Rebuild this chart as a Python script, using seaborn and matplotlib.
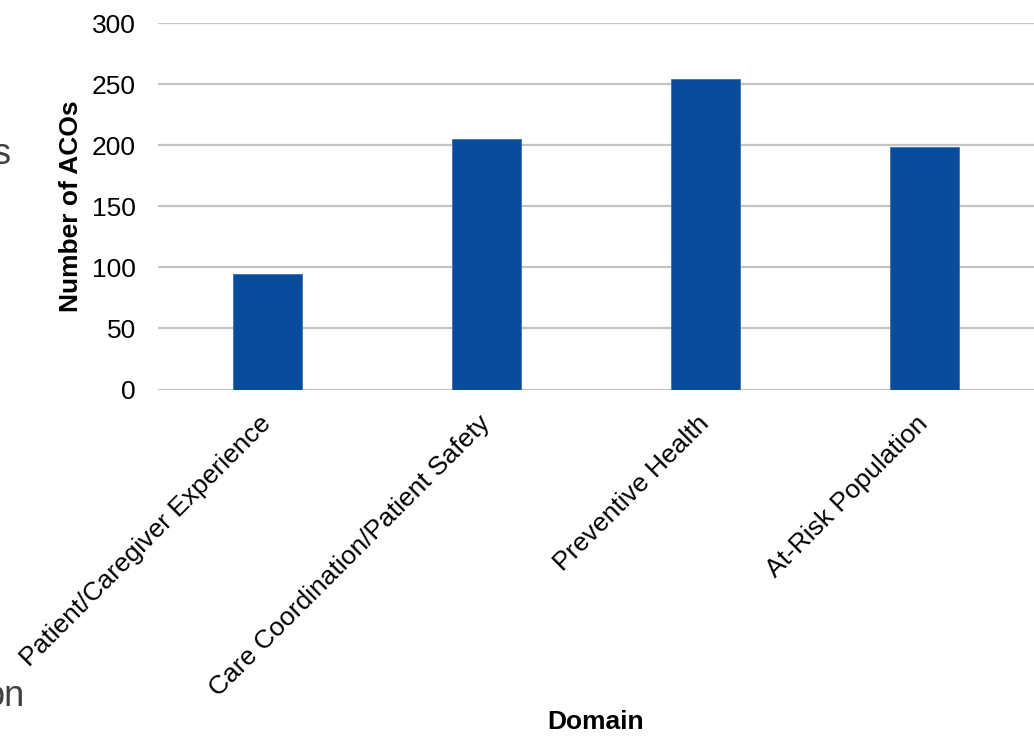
import matplotlib
matplotlib.use("Agg")
import matplotlib.pyplot as plt
import seaborn as sns
import pandas as pd

categories = ["Patient/Caregiver Experience", "Care Coordination/Patient Safety",
              "Preventive Health", "At-Risk Population"]
values = [95, 205, 254, 199]
y_ticks = [0, 50, 100, 150, 200, 250, 300]

sns.set_theme(style="white")
plt.rcParams['font.family'] = ['Liberation Sans', 'DejaVu Sans']

df = pd.DataFrame({"Domain": categories, "Number of ACOs": values})

fig = plt.figure(figsize=(10.34, 7.37), dpi=100)
ax = fig.add_axes([0.1528, 0.4715, 0.847, 0.4969])

sns.barplot(data=df, x="Domain", y="Number of ACOs", color="#0A4C9C",
            width=0.315, saturation=1, edgecolor="#3F6FB5", linewidth=0.6, ax=ax)

ax.set_ylim(0, 300)
ax.set_xlim(-0.5, 3.5)
ax.set_yticks(y_ticks)
ax.yaxis.grid(True, color="#C4C4C4", linewidth=1.6)
ax.set_axisbelow(True)
for s in ax.spines.values():
    s.set_visible(False)
ax.tick_params(axis="both", length=0, labelsize=19, colors="black")
ax.tick_params(axis="y", pad=16)
ax.tick_params(axis="x", pad=22)
for lab in ax.get_xticklabels():
    lab.set_rotation(45)
    lab.set_ha("right")
    lab.set_va("center")
    lab.set_rotation_mode("anchor")

ax.set_ylabel("Number of ACOs", fontsize=19, fontweight="bold", labelpad=6, color="black")
ax.set_xlabel("Domain", fontsize=19, fontweight="bold", va="top", color="black")
ax.xaxis.set_label_coords(0.5, -0.875)

fig.text(11 / 1034, 1 - 164 / 737, "s", fontsize=26, color="#404040", ha="right", va="baseline")
fig.text(25 / 1034, 1 - 706 / 737, "on", fontsize=26, color="#404040", ha="right", va="baseline")

fig.savefig("out.png", dpi=100)
